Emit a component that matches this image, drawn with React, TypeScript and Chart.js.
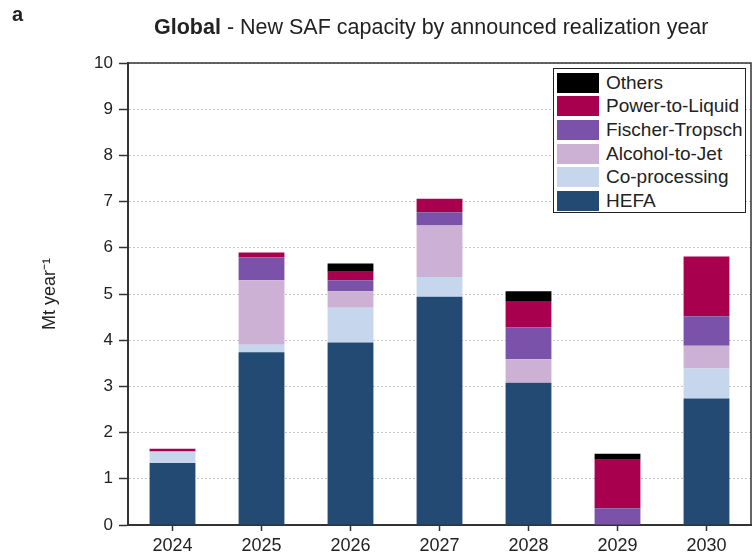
import React, { useEffect, useRef } from "react";
import { Chart, registerables } from "chart.js";

Chart.register(...registerables);

const years = ["2024", "2025", "2026", "2027", "2028", "2029", "2030"];
const hefa = [1.34, 3.74, 3.95, 4.94, 3.08, 0, 2.74];
const coProcessing = [0.25, 0.16, 0.75, 0.43, 0, 0, 0.65];
const alcoholToJet = [0, 1.4, 0.36, 1.11, 0.51, 0, 0.49];
const fischerTropsch = [0, 0.49, 0.24, 0.29, 0.69, 0.36, 0.64];
const powerToLiquid = [0.06, 0.11, 0.18, 0.29, 0.57, 1.05, 1.29];
const others = [0, 0, 0.18, 0, 0.21, 0.13, 0];

const seriesNames = ["HEFA", "Co-processing", "Alcohol-to-Jet", "Fischer-Tropsch", "Power-to-Liquid", "Others"];
const seriesValues = [hefa, coProcessing, alcoholToJet, fischerTropsch, powerToLiquid, others];
const seriesColors = ["#224a72", "#c6d6ec", "#cdb1d5", "#7a52aa", "#a8004f", "#000000"];

const yMin = 0;
const yMax = 10;
const yStep = 1;

const FONT = "'Liberation Sans', Arial, sans-serif";

const framePlugin = {
  id: "frame",
  afterDraw(chart: any) {
    const { ctx, chartArea } = chart;
    ctx.save();
    ctx.strokeStyle = "#333";
    ctx.lineWidth = 1.5;
    ctx.beginPath();
    ctx.moveTo(chartArea.left, chartArea.top);
    ctx.lineTo(chartArea.right, chartArea.top);
    ctx.lineTo(chartArea.right, chartArea.bottom);
    ctx.stroke();
    ctx.restore();
  },
};

export default function App() {
  const ref = useRef<HTMLCanvasElement | null>(null);

  useEffect(() => {
    if (!ref.current) return;
    const chart = new Chart(ref.current, {
      type: "bar",
      data: {
        labels: years,
        datasets: seriesNames.map((name, i) => ({
          label: name,
          data: seriesValues[i],
          backgroundColor: seriesColors[i],
          borderWidth: 0,
          barPercentage: 0.515,
          categoryPercentage: 1,
        })),
      },
      options: {
        responsive: false,
        animation: false,
        devicePixelRatio: 1,
        layout: { padding: { top: 63, right: 2, left: 0, bottom: 0 } },
        plugins: {
          legend: { display: false },
          title: { display: false },
          tooltip: { enabled: false },
        },
        scales: {
          x: {
            stacked: true,
            afterFit: (scale: any) => {
              scale.height = 33;
            },
            grid: {
              drawOnChartArea: false,
              drawTicks: true,
              offset: false,
              tickLength: 6,
              tickColor: "#333",
              tickWidth: 1.5,
            },
            border: { display: true, color: "#333", width: 2 },
            ticks: {
              color: "#222",
              padding: 4,
              font: { family: FONT, size: 18 },
              maxRotation: 0,
            },
          },
          y: {
            stacked: true,
            min: yMin,
            max: yMax,
            afterFit: (scale: any) => {
              scale.width = 128;
            },
            grid: {
              color: "#c4c4c4",
              lineWidth: 1,
              drawTicks: true,
              tickLength: 9,
              tickColor: "#333",
              tickWidth: 1.5,
              tickBorderDash: [],
            },
            border: { display: true, color: "#333", width: 2, dash: [2, 2] },
            ticks: {
              stepSize: yStep,
              color: "#222",
              padding: 6,
              font: { family: FONT, size: 17 },
            },
            title: {
              display: true,
              text: "Mt year\u207B\u00B9",
              color: "#222",
              font: { family: FONT, size: 18 },
              padding: { top: 39, bottom: 0 },
            },
          },
        },
      },
      plugins: [framePlugin],
    } as any);
    return () => chart.destroy();
  }, []);

  const legendOrder = [5, 4, 3, 2, 1, 0];

  return (
    <div style={{ position: "absolute", left: 0, top: 0, width: 753, height: 558, background: "#fff", fontFamily: FONT }}>
      <canvas ref={ref} width={753} height={558} style={{ position: "absolute", left: 0, top: 0, width: 753, height: 558 }} />
      <div style={{ position: "absolute", left: 12, top: 4, fontSize: 20, lineHeight: "20px", fontWeight: "bold", color: "#222" }}>a</div>
      <div style={{ position: "absolute", left: 154, top: 17, fontSize: 21.5, lineHeight: "21px", color: "#222", whiteSpace: "nowrap" }}>
        <b>Global</b> - New SAF capacity by announced realization year
      </div>
      <div style={{ position: "absolute", left: 553, top: 68, width: 191, height: 143, border: "1.5px solid #222", background: "#fff" }}>
        {legendOrder.map((idx, k) => (
          <div key={seriesNames[idx]} style={{ position: "absolute", left: 3, top: 3.5 + k * 23.7, height: 20, display: "flex", alignItems: "center" }}>
            <div style={{ width: 42, height: 20, background: seriesColors[idx] }} />
            <div style={{ marginLeft: 7, fontSize: 19, lineHeight: "20px", color: "#222", whiteSpace: "nowrap" }}>{seriesNames[idx]}</div>
          </div>
        ))}
      </div>
    </div>
  );
}
